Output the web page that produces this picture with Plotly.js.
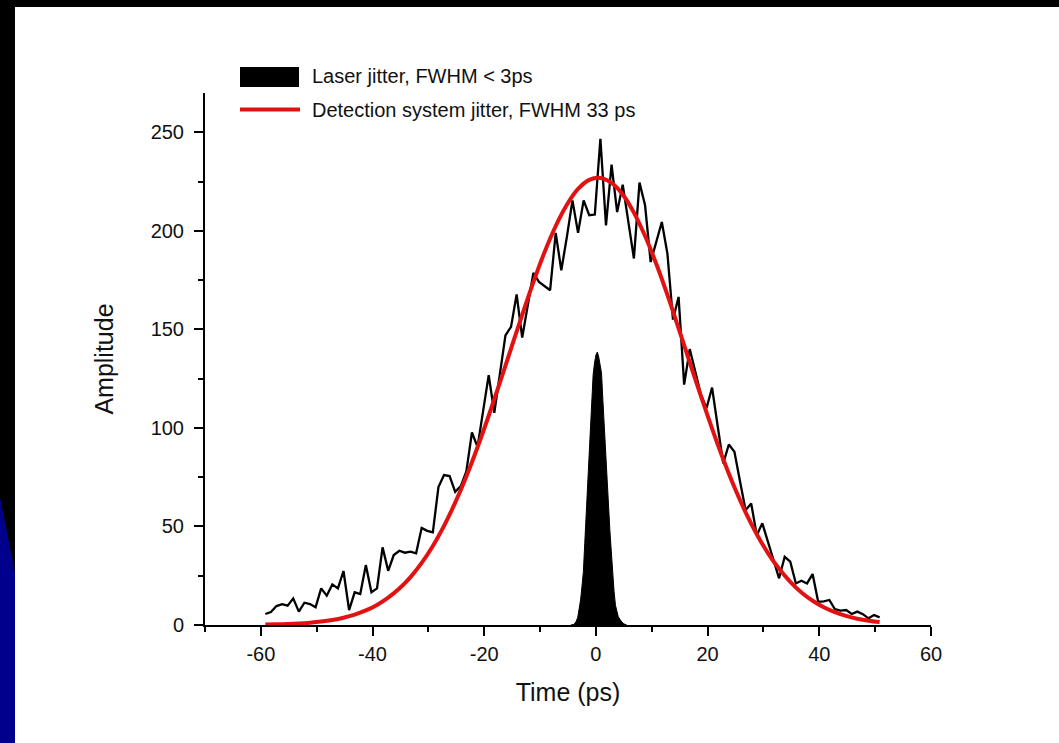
<!DOCTYPE html>
<html>
<head>
<meta charset="utf-8">
<script src="https://cdn.plot.ly/plotly-3.0.1.min.js"></script>
<style>
  html, body { margin: 0; padding: 0; background: #000; width: 1059px; height: 743px; overflow: hidden; }
  #white { position: absolute; left: 15px; top: 7px; width: 1044px; height: 736px; background: #fff; }
  #blue { position: absolute; left: 0; top: 497px; width: 15px; height: 246px; background: #00008C;
          clip-path: polygon(0 0, 100% 31%, 100% 100%, 0 100%); }
  #chart { position: absolute; left: 0; top: 0; width: 1059px; height: 743px; }
</style>
</head>
<body>
<div id="white"></div>
<div id="blue"></div>
<div id="chart"></div>
<script>
// Measured histogram (detection system jitter)
const measTime = [-59.2,-58.2,-57.2,-56.2,-55.2,-54.2,-53.2,-52.2,-51.2,-50.2,
  -49.2,-48.2,-47.2,-46.2,-45.2,-44.2,-43.2,-42.2,-41.2,-40.2,
  -39.2,-38.2,-37.2,-36.2,-35.2,-34.2,-33.2,-32.2,-31.2,-30.2,
  -29.2,-28.2,-27.2,-26.2,-25.2,-24.2,-23.2,-22.2,-21.2,-20.2,
  -19.2,-18.2,-17.2,-16.2,-15.2,-14.2,-13.2,-12.2,-11.2,-10.2,
  -9.2,-8.2,-7.2,-6.2,-5.2,-4.2,-3.2,-2.2,-1.2,-0.2,
  0.8,1.8,2.8,3.8,4.8,5.8,6.8,7.8,8.8,9.8,
  10.8,11.8,12.8,13.8,14.8,15.8,16.8,17.8,18.8,19.8,
  20.8,21.8,22.8,23.8,24.8,25.8,26.8,27.8,28.8,29.8,
  30.8,31.8,32.8,33.8,34.8,35.8,36.8,37.8,38.8,39.8,
  40.8,41.8,42.8,43.8,44.8,45.8,46.8,47.8,48.8,49.8,50.8];
const measAmp = [5.6,6.6,9.6,10.6,9.8,13.5,6.8,11.3,10.6,9.0,
  18.6,14.9,20.6,18.6,27.4,7.6,16.6,15.7,30.4,16.6,
  18.6,39.4,27.5,35.5,37.7,36.7,37.2,36.4,49.3,47.8,
  47.0,70.0,76.1,75.6,67.6,70.5,78.0,97.7,90.4,108.0,
  126.8,107.7,127.0,147.0,151.3,167.8,145.9,162.0,178.7,174.1,
  172.0,169.9,199.0,180.0,197.0,215.5,199.0,215.5,208.0,208.3,
  246.8,202.8,233.6,209.6,223.5,205.0,186.0,224.5,213.0,184.2,
  194.0,204.5,188.5,155.0,166.5,122.0,140.0,128.0,117.0,110.0,
  120.5,101.0,82.0,91.6,87.9,73.0,58.3,61.7,45.6,51.6,
  42.0,33.0,23.7,34.6,32.1,21.1,22.5,21.1,25.9,11.8,
  12.0,12.7,8.0,7.3,7.6,5.6,6.8,5.5,3.4,5.1,3.9];

// Fitted curve
const fitTime = [-59.2,-57.2,-55.2,-53.2,-51.2,-49.2,-47.2,-45.2,-43.2,-41.2,
  -39.2,-37.2,-35.2,-33.2,-31.2,-29.2,-27.2,-25.2,-23.2,-21.2,
  -19.2,-17.2,-15.2,-13.2,-11.2,-9.2,-7.2,-5.2,-3.2,-1.2,
  0.8,2.8,4.8,6.8,8.8,10.8,12.8,14.8,16.8,18.8,
  20.8,22.8,24.8,26.8,28.8,30.8,32.8,34.8,36.8,38.8,
  40.8,42.8,44.8,46.8,48.8,50.8];
const fitAmp = [0.2,0.32,0.5,0.77,1.17,1.75,2.57,3.71,5.29,7.4,
  10.2,13.9,18.5,24.3,31.5,40.1,50.3,62.1,75.4,90.2,
  106.2,123.0,140.3,157.4,174.0,189.2,202.5,213.3,221.3,225.9,
  226.9,224.4,218.5,209.3,197.4,183.3,167.5,150.6,133.3,116.2,
  99.7,84.1,69.9,57.2,46.1,36.5,28.5,21.9,16.5,12.3,
  9.0,6.5,4.6,3.2,2.2,1.5];

// Laser jitter histogram
const laserTime = [-4.5,-4.0,-3.75,-3.5,-3.25,-3.0,-2.75,-2.5,-2.25,-2.0,
  -1.75,-1.5,-1.25,-1.0,-0.75,-0.5,-0.25,0.0,0.25,0.5,
  0.75,1.0,1.25,1.5,1.75,2.0,2.25,2.5,2.75,3.0,
  3.25,3.5,3.75,4.0,4.5,5.0,5.5];
const laserAmp = [0,0.3,0.9,2.0,4.0,7.5,12.7,19.5,27,41.5,
  55.5,69.5,84,98,112,127,133,137,138.5,136,
  132,128,114,100,86,72,57,48,37.5,26,
  17,10,7,4.2,2,0.6,0];

// Tick labels (plain hyphen minus as in the original)
const xTickVals = [-60, -40, -20, 0, 20, 40, 60];
const xTickText = ['-60', '-40', '-20', '0', '20', '40', '60'];
const yTickVals = [0, 50, 100, 150, 200, 250];
const yTickText = ['0', '50', '100', '150', '200', '250'];

const legendLabels = ['Laser jitter, FWHM < 3ps', 'Detection system jitter, FWHM 33 ps'];
const xTitle = 'Time (ps)';
const yTitle = 'Amplitude';

const FONT = 'Liberation Sans, Arial, sans-serif';
const TXT = '#111111';
const RED = '#E31212';

// plot area in pixels
const L = 205, R = 931, T = 93, B = 625;
const W = 1059, H = 743;
const px = v => (v - L) / (R - L);
const py = v => (B - v) / (B - T);

const traces = [
  { x: laserTime, y: laserAmp, type: 'scatter', mode: 'lines', name: legendLabels[0],
    fill: 'tozeroy', fillcolor: '#000', line: { color: '#000', width: 1 }, showlegend: false },
  { x: measTime, y: measAmp, type: 'scatter', mode: 'lines', name: 'Measured',
    line: { color: '#000', width: 2.3 }, showlegend: false },
  { x: fitTime, y: fitAmp, type: 'scatter', mode: 'lines', name: legendLabels[1],
    line: { color: RED, width: 4, shape: 'spline' }, showlegend: false }
];

const layout = {
  width: W, height: H,
  paper_bgcolor: 'rgba(0,0,0,0)', plot_bgcolor: 'rgba(0,0,0,0)',
  margin: { l: L, r: W - R, t: T, b: H - B, pad: 0 },
  font: { family: FONT, color: TXT, size: 20 },
  showlegend: false,
  xaxis: {
    range: [-70, 60], tickmode: 'array', tickvals: xTickVals, ticktext: xTickText,
    ticks: 'outside', ticklen: 9, tickwidth: 2,
    tickcolor: '#000', showline: true, linewidth: 2, linecolor: '#000',
    showgrid: false, zeroline: false, ticklabelstandoff: 1,
    tickfont: { family: FONT, size: 20, color: TXT },
    minor: { tick0: 0, dtick: 10, ticks: 'outside', ticklen: 5, tickwidth: 2, tickcolor: '#000', showgrid: false },
    title: { text: xTitle, font: { family: FONT, size: 25, color: TXT }, standoff: 19 }
  },
  yaxis: {
    range: [0, 270], tickmode: 'array', tickvals: yTickVals, ticktext: yTickText,
    ticks: 'outside', ticklen: 9, tickwidth: 2,
    tickcolor: '#000', showline: true, linewidth: 2, linecolor: '#000',
    showgrid: false, zeroline: false, ticklabelstandoff: 6,
    tickfont: { family: FONT, size: 20, color: TXT },
    minor: { tick0: 0, dtick: 25, ticks: 'outside', ticklen: 5, tickwidth: 2, tickcolor: '#000', showgrid: false },
    title: { text: yTitle, font: { family: FONT, size: 25, color: TXT }, standoff: 30 }
  },
  shapes: [
    { type: 'rect', xref: 'paper', yref: 'paper', x0: px(240), x1: px(299), y0: py(87), y1: py(67),
      fillcolor: '#000', line: { width: 0 } },
    { type: 'line', xref: 'paper', yref: 'paper', x0: px(240), x1: px(300), y0: py(109.5), y1: py(109.5),
      line: { color: RED, width: 4 } }
  ],
  annotations: [
    { xref: 'paper', yref: 'paper', x: px(310), y: py(76), xanchor: 'left', yanchor: 'middle',
      text: legendLabels[0], showarrow: false, font: { family: FONT, size: 20, color: TXT } },
    { xref: 'paper', yref: 'paper', x: px(310), y: py(110), xanchor: 'left', yanchor: 'middle',
      text: legendLabels[1], showarrow: false, font: { family: FONT, size: 20, color: TXT } }
  ]
};

Plotly.newPlot('chart', traces, layout, { displayModeBar: false, staticPlot: true });
</script>
</body>
</html>
